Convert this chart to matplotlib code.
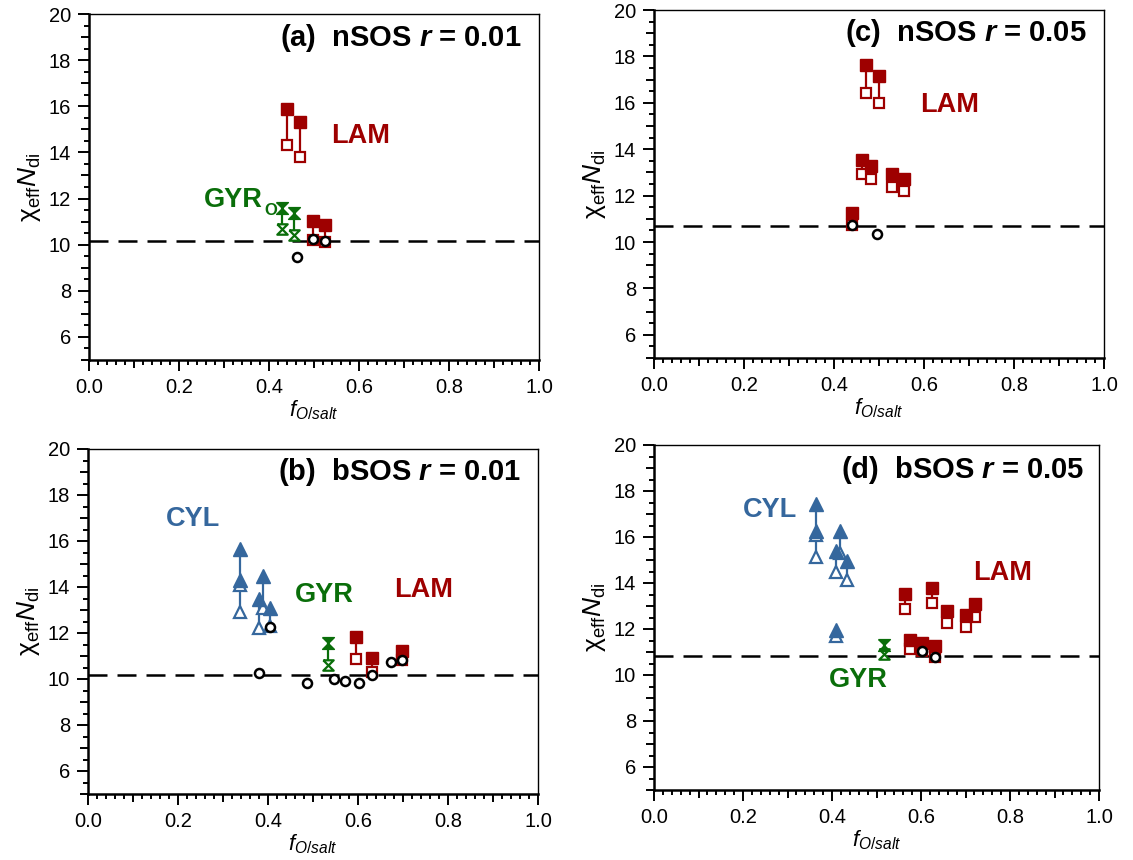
import numpy as np
import matplotlib
matplotlib.use("Agg")
import matplotlib.pyplot as plt
from matplotlib.ticker import FixedLocator

plt.rcParams["font.family"] = ["Liberation Sans", "DejaVu Sans"]
plt.rcParams["mathtext.fontset"] = "custom"
plt.rcParams["mathtext.rm"] = "Liberation Sans"
plt.rcParams["mathtext.it"] = "Liberation Sans:italic"
plt.rcParams["mathtext.bf"] = "Liberation Sans:bold"
plt.rcParams["mathtext.bfit"] = "Liberation Sans:bold:italic"

# colours
red = "#9e0000"
green = "#0a6e0a"
blue = "#35679d"

# (a) nSOS r = 0.01
a_dash = 10.17
a_lam_x = [0.441, 0.469, 0.498, 0.525]
a_lam_hi = [15.89, 15.32, 11.04, 10.84]
a_lam_lo = [14.30, 13.82, 10.22, 10.12]
a_gyr_x = [0.429, 0.455]
a_gyr_hi = [11.57, 11.36]
a_gyr_lo = [10.66, 10.44]
a_circ_x = [0.463, 0.498, 0.525]
a_circ_y = [9.47, 10.23, 10.14]

# (c) nSOS r = 0.05
c_dash = 10.69
c_lam_x = [0.440, 0.463, 0.472, 0.483, 0.499, 0.529, 0.556]
c_lam_hi = [11.25, 13.53, 17.63, 13.29, 17.14, 12.92, 12.73]
c_lam_lo = [10.72, 12.92, 16.43, 12.70, 16.00, 12.37, 12.20]
c_circ_x = [0.440, 0.495]
c_circ_y = [10.72, 10.33]

# (b) bSOS r = 0.01
b_dash = 10.19
b_cyl_x = [0.337, 0.337, 0.380, 0.389, 0.404]
b_cyl_hi = [15.66, 14.32, 13.46, 14.46, 13.08]
b_cyl_lo = [14.10, 12.90, 12.22, 13.10, 12.32]
b_gyr_x = [0.534]
b_gyr_hi = [11.57]
b_gyr_lo = [10.63]
b_lam_x = [0.596, 0.632, 0.698]
b_lam_hi = [11.83, 10.92, 11.21]
b_lam_lo = [10.87, 10.30, 10.82]
b_circ_x = [0.381, 0.404, 0.487, 0.546, 0.571, 0.603, 0.632, 0.674, 0.698]
b_circ_y = [10.24, 12.25, 9.83, 9.98, 9.90, 9.83, 10.19, 10.74, 10.82]

# (d) bSOS r = 0.05
d_dash = 10.81
d_cyl_x = [0.365, 0.365, 0.408, 0.418, 0.434, 0.410]
d_cyl_hi = [17.44, 16.24, 15.37, 16.28, 14.96, 11.96]
d_cyl_lo = [16.09, 15.12, 14.47, 15.30, 14.14, 11.70]
d_gyr_x = [0.517]
d_gyr_hi = [11.31]
d_gyr_lo = [10.92]
d_lam_x = [0.564, 0.575, 0.603, 0.625, 0.631, 0.659, 0.700, 0.722]
d_lam_hi = [13.51, 11.53, 11.39, 13.77, 11.27, 12.79, 12.59, 13.09]
d_lam_lo = [12.86, 11.12, 11.05, 13.12, 10.80, 12.28, 12.08, 12.54]
d_circ_x = [0.603, 0.631]
d_circ_y = [11.05, 10.78]

xticks = [0.0, 0.2, 0.4, 0.6, 0.8, 1.0]
xticklabels = ["0.0", "0.2", "0.4", "0.6", "0.8", "1.0"]
yticks = [6, 8, 10, 12, 14, 16, 18, 20]

bowtie = [(-1, 1), (1, 1), (-1, -1), (1, -1), (-1, 1)]

W, H = 1133, 860
fig = plt.figure(figsize=(W / 100, H / 100), dpi=100)

x_minor = [i / 50 for i in range(51) if i % 10 != 0]
y_minor = [5 + i / 2 for i in range(31) if i % 4 != 2]


def make_ax(l, r, t, b):
    ax = fig.add_axes([l / W, 1 - b / H, (r - l) / W, (b - t) / H])
    ax.set_xticks(xticks, xticklabels)
    ax.set_yticks(yticks)
    ax.xaxis.set_minor_locator(FixedLocator(x_minor))
    ax.yaxis.set_minor_locator(FixedLocator(y_minor))
    ax.set_xlim(0, 1)
    ax.set_ylim(5, 20)
    ax.tick_params(which="major", direction="out", length=8, width=1.4,
                   labelsize=14.5, top=False, right=False, pad=5)
    ax.tick_params(which="minor", direction="out", length=3.5, width=1.4,
                   top=False, right=False)
    # slightly longer ticks at the odd tenths / odd integers
    for t, v in zip(ax.xaxis.get_minor_ticks(len(x_minor)), x_minor):
        if round(v * 50) % 5 == 0:
            t.tick1line.set_markersize(5.5)
    for t, v in zip(ax.yaxis.get_minor_ticks(len(y_minor)), y_minor):
        if v == int(v):
            t.tick1line.set_markersize(5.5)
    ax.spines["left"].set_linewidth(1.8)
    ax.spines["bottom"].set_linewidth(1.8)
    ax.spines["top"].set_linewidth(1.0)
    ax.spines["right"].set_linewidth(1.0)
    ax.set_xlabel(r"$f_{O/salt}$", fontsize=16, labelpad=1)
    ax.set_ylabel(r"$\mathrm{\chi}_{\mathrm{eff}}N_{\mathrm{di}}$", fontsize=19, labelpad=4)
    return ax


def dash(ax, y):
    ax.axhline(y, color="black", lw=1.8, ls=(0, (7.6, 4.0)), zorder=1)


def pairs(ax, x, hi, lo, color, marker, ms, ms_open):
    ax.vlines(x, lo, hi, color=color, lw=1.6, zorder=2)
    ax.plot(x, lo, ls="none", marker=marker, ms=ms_open, mfc="white", mec=color, mew=1.6, zorder=3)
    ax.plot(x, hi, ls="none", marker=marker, ms=ms, mfc=color, mec=color, mew=1.0, zorder=4)


def circles(ax, x, y):
    ax.plot(x, y, ls="none", marker="o", ms=6.5, mfc="white", mec="black", mew=1.8, zorder=6)


def title(ax, s, x, y):
    ax.text(x, y, s, ha="right", va="center", fontsize=21, fontweight="bold")


def label(ax, s, x, y, color):
    ax.text(x, y, s, ha="center", va="center", fontsize=19.5, fontweight="bold", color=color)


# (a)
ax1 = make_ax(89, 539, 14, 360)
dash(ax1, a_dash)
pairs(ax1, a_lam_x, a_lam_hi, a_lam_lo, red, "s", 8, 7)
pairs(ax1, a_gyr_x, a_gyr_hi, a_gyr_lo, green, bowtie, 8.5, 7.5)
circles(ax1, a_circ_x, a_circ_y)
title(ax1, r"(a)  nSOS $\mathbfit{r}$ = 0.01", 0.961, 18.96)
label(ax1, "LAM", 0.604, 14.69, red)
ax1.text(0.255, 11.94, "GYR", ha="left", va="center", fontsize=19.5,
         fontweight="bold", color=green)
ax1.text(0.389, 11.48, "O", ha="left", va="center", fontsize=12,
         fontweight="bold", color=green)

# (c)
ax2 = make_ax(654, 1104, 10, 358)
dash(ax2, c_dash)
pairs(ax2, c_lam_x, c_lam_hi, c_lam_lo, red, "s", 8, 7)
circles(ax2, c_circ_x, c_circ_y)
title(ax2, r"(c)  nSOS $\mathbfit{r}$ = 0.05", 0.961, 18.99)
label(ax2, "LAM", 0.656, 15.9, red)

# (b)
ax3 = make_ax(88, 538, 449, 794)
dash(ax3, b_dash)
pairs(ax3, b_lam_x, b_lam_hi, b_lam_lo, red, "s", 8, 7)
pairs(ax3, b_gyr_x, b_gyr_hi, b_gyr_lo, green, bowtie, 8.5, 7.5)
pairs(ax3, b_cyl_x, b_cyl_hi, b_cyl_lo, blue, "^", 9.5, 8.5)
circles(ax3, b_circ_x, b_circ_y)
title(ax3, r"(b)  bSOS $\mathbfit{r}$ = 0.01", 0.963, 19.0)
label(ax3, "CYL", 0.233, 16.95, blue)
label(ax3, "GYR", 0.526, 13.67, green)
label(ax3, "LAM", 0.746, 13.88, red)

# (d)
ax4 = make_ax(654, 1099, 445, 790)
dash(ax4, d_dash)
pairs(ax4, d_lam_x, d_lam_hi, d_lam_lo, red, "s", 8, 7)
pairs(ax4, d_gyr_x, d_gyr_hi, d_gyr_lo, green, bowtie, 8.5, 7.5)
pairs(ax4, d_cyl_x, d_cyl_hi, d_cyl_lo, blue, "^", 9.5, 8.5)
circles(ax4, d_circ_x, d_circ_y)
title(ax4, r"(d)  bSOS $\mathbfit{r}$ = 0.05", 0.966, 18.9)
label(ax4, "CYL", 0.26, 17.18, blue)
label(ax4, "LAM", 0.783, 14.45, red)
label(ax4, "GYR", 0.459, 9.79, green)

fig.savefig("out.png", dpi=100)
